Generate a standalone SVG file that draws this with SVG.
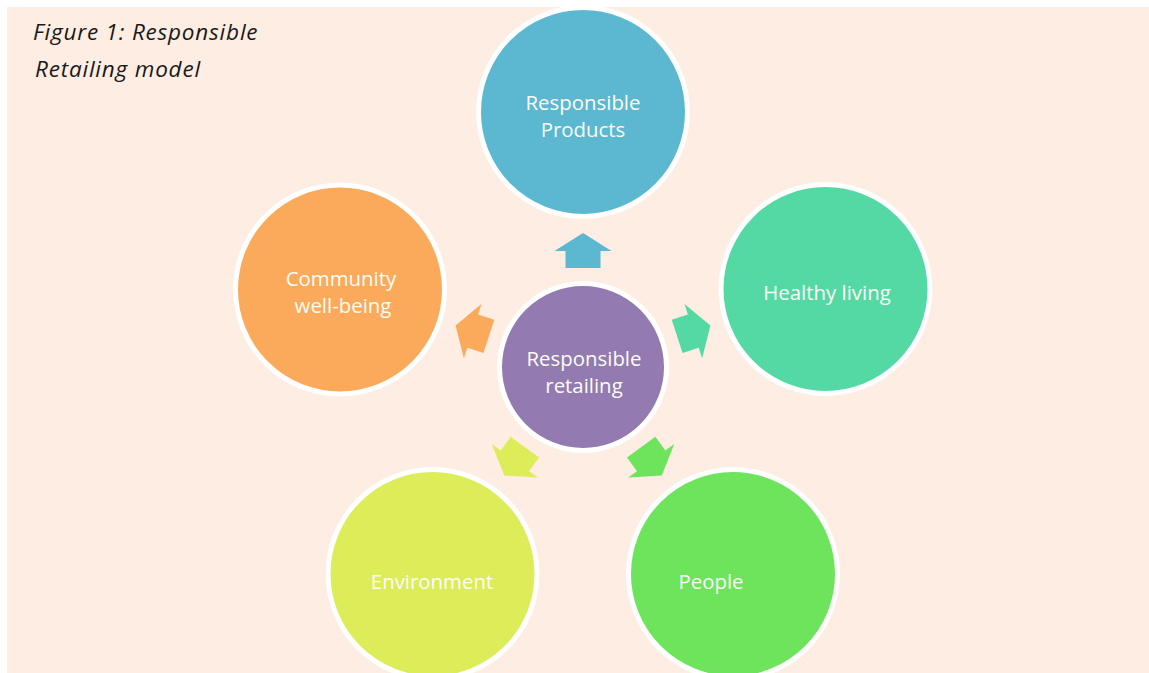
<svg xmlns="http://www.w3.org/2000/svg" width="1149" height="673" viewBox="0 0 1149 673">
  <style>
    .bg { fill: #FDEDE2; }
    .node { stroke: #FFFFFF; stroke-width: 5; }
    .label { font-family: "Open Sans", Lato, "Liberation Sans", sans-serif; font-size: 20.4px; fill: #FBFDF6; text-anchor: middle; }
    .title { font-family: "Open Sans", Lato, "Liberation Sans", sans-serif; font-size: 22.5px; letter-spacing: 0.8px; font-style: italic; fill: #1A1A1A; }
  </style>
  <defs>
    <!-- block arrow pointing up, drawn relative to the hub centre -->
    <polygon id="arrow" points="0,-134 28.5,-116 17.5,-116 17.5,-99 -17.5,-99 -17.5,-116 -28.5,-116"/>
  </defs>

  <rect class="bg" x="7" y="7" width="1142" height="666"/>

  <text class="title" x="33" y="40">Figure 1: Responsible</text>
  <text class="title" x="35" y="77">Retailing model</text>

  <!-- arrows radiating from the hub -->
  <g id="connectors" transform="translate(583,367)">
    <use href="#arrow" fill="#5BB8D0"/>
    <use href="#arrow" fill="#54D9A5" transform="rotate(72)"/>
    <use href="#arrow" fill="#6EE35C" transform="rotate(144)"/>
    <use href="#arrow" fill="#DDEC59" transform="rotate(-144)"/>
    <use href="#arrow" fill="#FAAA5A" transform="rotate(-72)"/>
  </g>

  <g id="hub">
    <circle class="node" cx="583" cy="367" r="83.5" fill="#937AB1"/>
    <text class="label" x="584" y="365.5">Responsible</text>
    <text class="label" x="584" y="392.5">retailing</text>
  </g>

  <g id="products">
    <circle class="node" cx="583" cy="112" r="104.5" fill="#5BB8D0"/>
    <text class="label" x="583" y="109.5">Responsible</text>
    <text class="label" x="583" y="136.5">Products</text>
  </g>

  <g id="healthy-living">
    <circle class="node" cx="825.5" cy="289" r="104.5" fill="#54D9A5"/>
    <text class="label" x="827" y="300">Healthy living</text>
  </g>

  <g id="people">
    <circle class="node" cx="733" cy="574" r="104.5" fill="#6EE35C"/>
    <text class="label" x="711" y="589">People</text>
  </g>

  <g id="environment">
    <circle class="node" cx="432.5" cy="574" r="104.5" fill="#DDEC59"/>
    <text class="label" x="432" y="589">Environment</text>
  </g>

  <g id="community">
    <circle class="node" cx="340" cy="289.5" r="104.5" fill="#FAAA5A"/>
    <text class="label" x="341" y="285.5">Community</text>
    <text class="label" x="343" y="313">well-being</text>
  </g>
</svg>
